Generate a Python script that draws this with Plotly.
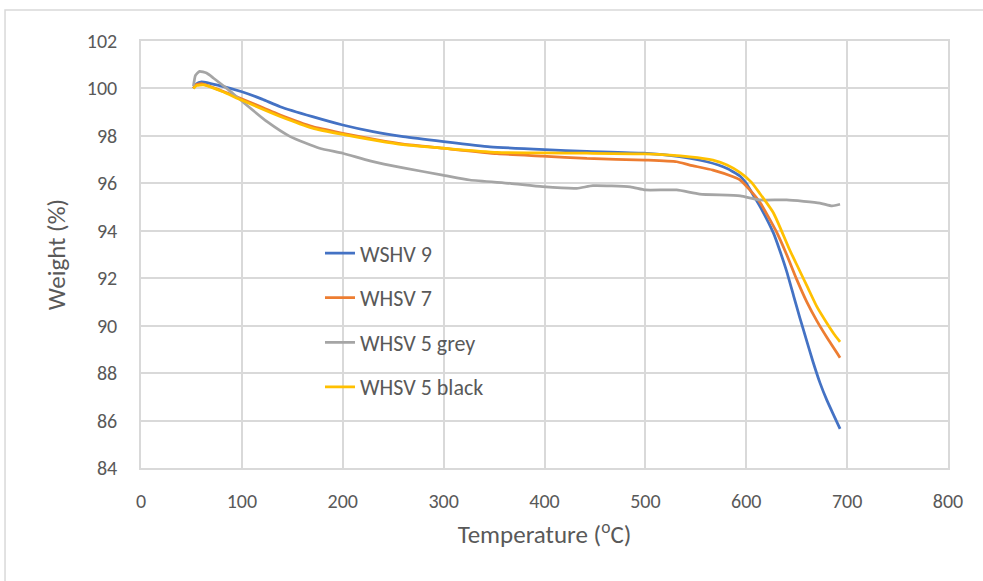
import plotly.graph_objects as go

# ---- data ----
blue_T = [52, 55, 60, 80, 100, 120, 138, 170, 200, 230, 260, 300, 346, 400, 442, 498, 534, 561, 581, 594, 600, 607, 614, 627, 633, 640, 647, 653, 660, 666, 673, 680, 687, 693]
blue_W = [100.0, 100.2, 100.28, 100.1, 99.86, 99.55, 99.23, 98.81, 98.46, 98.18, 97.97, 97.76, 97.54, 97.42, 97.35, 97.27, 97.12, 96.91, 96.63, 96.3, 96.0, 95.5, 95.0, 93.9, 93.2, 92.3, 91.25, 90.35, 89.35, 88.5, 87.6, 86.85, 86.2, 85.65]

orange_T = [52, 54, 60, 78, 99, 138, 170, 200, 234, 260, 299, 353, 398, 442, 500, 531, 544, 567, 587, 594, 604, 614, 630, 640, 650, 660, 670, 680, 693]
orange_W = [100.0, 100.15, 100.2, 99.93, 99.58, 98.88, 98.39, 98.11, 97.83, 97.65, 97.48, 97.25, 97.15, 97.05, 96.98, 96.91, 96.77, 96.56, 96.28, 96.14, 95.7, 95.17, 93.95, 93.0, 91.95, 91.0, 90.2, 89.5, 88.65]

grey_T = [52, 54, 58, 65, 72, 85, 99, 125, 148, 177, 200, 227, 260, 299, 326, 366, 398, 432, 448, 485, 500, 531, 554, 594, 613, 640, 673, 685, 693]
grey_W = [100.1, 100.55, 100.72, 100.65, 100.43, 100.0, 99.5, 98.6, 97.97, 97.48, 97.27, 96.95, 96.65, 96.35, 96.14, 96.0, 95.86, 95.79, 95.9, 95.85, 95.72, 95.72, 95.55, 95.47, 95.3, 95.3, 95.17, 95.05, 95.12]

yellow_T = [52, 55, 62, 80, 99, 138, 170, 200, 234, 260, 299, 353, 398, 442, 500, 544, 567, 581, 594, 605, 613, 627, 643, 652, 661, 670, 680, 687, 693]
yellow_W = [100.0, 100.12, 100.15, 99.88, 99.52, 98.82, 98.33, 98.06, 97.8, 97.63, 97.48, 97.3, 97.28, 97.27, 97.24, 97.12, 96.98, 96.77, 96.45, 96.05, 95.6, 94.75, 93.2, 92.4, 91.6, 90.8, 90.1, 89.65, 89.32]

series_names = ["WSHV 9", "WHSV 7", "WHSV 5 grey", "WHSV 5 black"]
series_colors = ["#4472C4", "#ED7D31", "#A5A5A5", "#FFC000"]

x_ticks = list(range(0, 801, 100))
y_ticks = list(range(84, 103, 2))

FONT = "Carlito, Lato, sans-serif"
TXT = "#595959"
GRID = "#D9D9D9"

fig = go.Figure()
for name, color, T, W in zip(series_names, series_colors,
                             [blue_T, orange_T, grey_T, yellow_T],
                             [blue_W, orange_W, grey_W, yellow_W]):
    fig.add_trace(go.Scatter(x=T, y=W, mode="lines", name=name, legendgroup=name,
                             line=dict(color=color, width=2.75, shape="spline", smoothing=0.5)))

fig.update_layout(
    width=983, height=581,
    margin=dict(l=141, r=35, t=41, b=113),
    paper_bgcolor="white", plot_bgcolor="white",
    font=dict(family=FONT, size=20, color=TXT),
    showlegend=True,
    legend=dict(x=0.2218, y=0.552, xanchor="left", yanchor="top",
                bgcolor="rgba(255,255,255,0)", tracegroupgap=13,
                font=dict(family=FONT, size=22, color=TXT)),
    xaxis=dict(range=[0, 800], tickvals=x_ticks, showgrid=True, gridcolor=GRID, gridwidth=1.5,
               zeroline=False, showline=True, linecolor=GRID, linewidth=1.5, mirror=True,
               ticks="", ticklabelstandoff=14, tickfont=dict(size=20),
               title=dict(text="Temperature (<sup>o</sup>C)", standoff=14,
                          font=dict(family=FONT, size=25, color=TXT))),
    yaxis=dict(range=[84, 102], tickvals=y_ticks, showgrid=True, gridcolor=GRID, gridwidth=1.5,
               zeroline=False, showline=True, linecolor=GRID, linewidth=1.5, mirror=True,
               ticks="", ticklabelstandoff=18, tickfont=dict(size=20),
               title=dict(text="Weight (%)", standoff=14,
                          font=dict(family=FONT, size=25, color=TXT))),
)

# outer chart frame (grey border like the source)
fig.add_shape(type="rect", xref="paper", yref="paper",
              x0=-0.1685, x1=1.06, y0=-0.4, y1=1.0726,
              line=dict(color="#D9D9D9", width=1.5), fillcolor="rgba(0,0,0,0)", layer="below")

fig.write_html("out.html")
